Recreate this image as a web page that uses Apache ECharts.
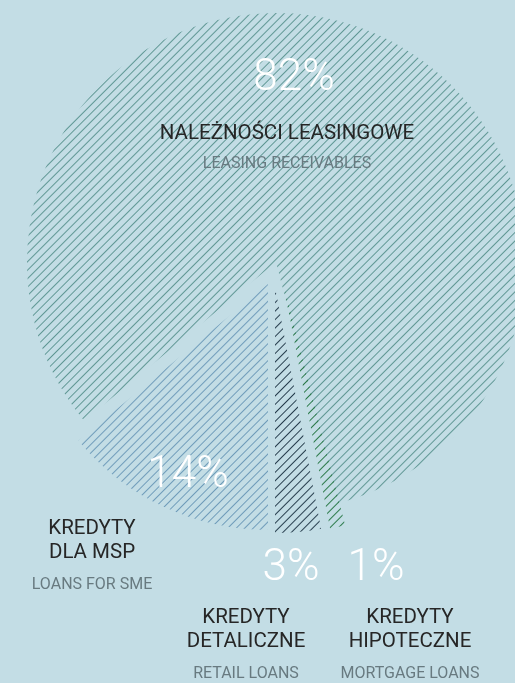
<!DOCTYPE html>
<html>
<head>
<meta charset="utf-8">
<style>
  html, body { margin: 0; padding: 0; background: #c3dde5; }
  #chart { width: 515px; height: 683px; }
</style>
<script src="https://cdn.jsdelivr.net/npm/echarts@6/dist/echarts.min.js"></script>
</head>
<body>
<div id="chart"></div>
<script>
const shares = [82, 14, 3, 1]
const namesPl = [['NALEŻNOŚCI LEASINGOWE'], ['KREDYTY', 'DLA MSP'], ['KREDYTY', 'DETALICZNE'], ['KREDYTY', 'HIPOTECZNE']]
const namesEn = ['LEASING RECEIVABLES', 'LOANS FOR SME', 'RETAIL LOANS', 'MORTGAGE LOANS']

const BG = '#c3dde5'
const hatchColors = ['#5f9794', '#6f9cba', '#263d4d', '#2a7a49']

// every slice is pulled a little away from the common centre
const baseCenter = [276, 262]
const shifts = [[0, 0], [-8, 22], [-1, 25], [8, 25]]
const radii = [249, 246, 246, 246]
const pctPos = [[294, 79], [188, 476], [291, 569], [376, 569]]
const namePos = [[287, 122], [92, 517], [246, 606], [410, 606]]

const total = shares.reduce((a, b) => a + b, 0)
// the 14% / 3% border points straight down
const startAngle = (((-90 - (shares[0] + shares[1]) / total * 360) % 360) + 360) % 360

const FONT = 'Roboto, "Open Sans", sans-serif'
const clear = 'rgba(0,0,0,0)'

function hatch(color) {
  return {
    symbol: 'rect',
    symbolSize: 1,
    color: color,
    backgroundColor: null,
    dashArrayX: [1, 0],
    dashArrayY: [1, 5],
    rotation: -Math.PI / 4
  }
}

const chart = echarts.init(document.getElementById('chart'))

const sliceSeries = shares.map((v, i) => ({
  type: 'pie',
  silent: true,
  center: [baseCenter[0] + shifts[i][0], baseCenter[1] + shifts[i][1]],
  radius: [0, radii[i]],
  startAngle: startAngle,
  clockwise: false,
  avoidLabelOverlap: false,
  label: { show: false },
  labelLine: { show: false },
  labelLayout: (p) => ({ x: pctPos[p.dataIndex][0], y: pctPos[p.dataIndex][1], align: 'center', verticalAlign: 'middle' }),
  data: shares.map((s, j) => ({
    value: s,
    name: namesEn[j],
    itemStyle: j === i ? { color: clear, decal: hatch(hatchColors[i]) } : { color: clear },
    label: j === i ? {
      show: true,
      position: 'inside',
      formatter: '{c}%',
      color: '#ffffff',
      fontFamily: FONT,
      fontWeight: 300,
      fontSize: 44
    } : { show: false }
  }))
}))

const nameSeries = {
  type: 'pie',
  silent: true,
  center: baseCenter,
  radius: [0, radii[0]],
  startAngle: startAngle,
  clockwise: false,
  avoidLabelOverlap: false,
  z: 5,
  labelLine: { show: false },
  label: {
    show: true,
    position: 'inside',
    formatter: (p) => namesPl[p.dataIndex].map(t => '{n|' + t + '}').join('\n') + '\n{' + (p.dataIndex === 0 ? 'b' : 's') + '|' + namesEn[p.dataIndex] + '}',
    rich: {
      n: { color: '#262626', fontFamily: FONT, fontSize: 20.5, lineHeight: 24, align: 'center' },
      s: { color: '#687a80', fontFamily: FONT, fontSize: 16, lineHeight: 40, align: 'center' },
      b: { color: '#687a80', fontFamily: FONT, fontSize: 16, lineHeight: 36, align: 'center' }
    }
  },
  labelLayout: (p) => ({ x: namePos[p.dataIndex][0], y: namePos[p.dataIndex][1], align: 'center', verticalAlign: 'top' }),
  data: shares.map((s, j) => ({ value: s, name: namesEn[j], itemStyle: { color: clear } }))
}

chart.setOption({
  backgroundColor: BG,
  animation: false,
  series: [...sliceSeries, nameSeries]
})
</script>
</body>
</html>
